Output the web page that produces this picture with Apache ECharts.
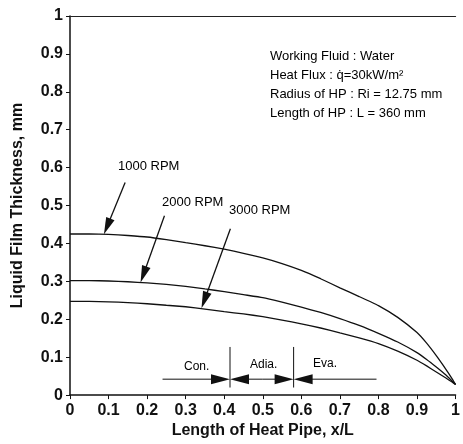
<!DOCTYPE html>
<html>
<head>
<meta charset="utf-8">
<script src="https://cdn.jsdelivr.net/npm/echarts@6/dist/echarts.min.js"></script>
<style>
  html, body { margin: 0; padding: 0; background: #fff; }
  #chart { width: 463px; height: 444px; }
</style>
</head>
<body>
<div id="chart"></div>
<script>
// x/L positions sampled along the pipe
const xPos = [0, 0.05, 0.1, 0.15, 0.2, 0.25, 0.3, 0.35, 0.4, 0.45, 0.5, 0.55, 0.6, 0.65, 0.7, 0.75, 0.8, 0.85, 0.9, 0.925, 0.95, 0.975, 0.99, 1.0]
const rpm1000 = [0.425, 0.425, 0.424, 0.421, 0.417, 0.41, 0.402, 0.394, 0.385, 0.374, 0.362, 0.347, 0.329, 0.307, 0.283, 0.26, 0.236, 0.205, 0.165, 0.137, 0.104, 0.068, 0.045, 0.028]
const rpm2000 = [0.302, 0.302, 0.301, 0.299, 0.296, 0.292, 0.287, 0.28, 0.273, 0.265, 0.257, 0.245, 0.232, 0.218, 0.202, 0.184, 0.163, 0.14, 0.112, 0.094, 0.074, 0.053, 0.038, 0.028]
const rpm3000 = [0.247, 0.247, 0.246, 0.244, 0.241, 0.237, 0.233, 0.227, 0.22, 0.214, 0.207, 0.198, 0.188, 0.177, 0.164, 0.151, 0.136, 0.116, 0.092, 0.077, 0.061, 0.045, 0.035, 0.028]

// section boundaries (x/L) and the labels under the curves
const sectionEdges = [0.415, 0.58]
const sectionRange = [0.24, 0.795]
const sectionNames = ['Con.', 'Adia.', 'Eva.']

// pointer arrows from the rpm labels to the curves: [x1, y1, x2(tip), y2(tip)]
const pointerArrows = [
  [0.143, 0.561, 0.088, 0.424],
  [0.245, 0.473, 0.183, 0.297],
  [0.416, 0.439, 0.341, 0.229]
]

const font = '"Liberation Sans", Arial, Helvetica, sans-serif'
const pairs = ys => xPos.map((x, i) => [x, ys[i]])

const arrowY = 0.042
// [x1, y1, x2, y2, head?]
const sectionArrows = [
  [sectionEdges[0], 0.02, sectionEdges[0], 0.127, 0],
  [sectionEdges[1], 0.02, sectionEdges[1], 0.127, 0],
  [sectionRange[0], arrowY, sectionEdges[0], arrowY, 1],
  [0.5, arrowY, sectionEdges[0], arrowY, 1],
  [0.5, arrowY, sectionEdges[1], arrowY, 1],
  [sectionRange[1], arrowY, sectionEdges[1], arrowY, 1]
]

// draws a line with an optional filled head at its second point
function arrowRenderer(headLen, headHalf, lineWidth) {
  return function (params, api) {
    const a = api.coord([api.value(0), api.value(1)])
    const b = api.coord([api.value(2), api.value(3)])
    const withHead = api.value(4) !== 0
    const dx = b[0] - a[0], dy = b[1] - a[1]
    const len = Math.sqrt(dx * dx + dy * dy)
    const ux = dx / len, uy = dy / len
    const children = []
    const end = withHead ? [b[0] - ux * headLen * 0.8, b[1] - uy * headLen * 0.8] : b
    children.push({
      type: 'line',
      shape: { x1: a[0], y1: a[1], x2: end[0], y2: end[1] },
      style: { stroke: '#111', lineWidth: lineWidth }
    })
    if (withHead) {
      const bx = b[0] - ux * headLen, by = b[1] - uy * headLen
      children.push({
        type: 'polygon',
        shape: { points: [b, [bx - uy * headHalf, by + ux * headHalf], [bx + uy * headHalf, by - ux * headHalf]] },
        style: { fill: '#111' }
      })
    }
    return { type: 'group', children }
  }
}

const curveStyle = { color: '#111', width: 1.3 }
const curve = (name, ys) => ({
  name, type: 'line', data: pairs(ys), smooth: 0.15,
  showSymbol: false, lineStyle: curveStyle
})

const chart = echarts.init(document.getElementById('chart'))

chart.setOption({
  animation: false,
  backgroundColor: '#fff',
  grid: { left: 70, top: 16, right: 1, bottom: 43 },
  xAxis: [{
    type: 'value',
    min: 0,
    max: 1,
    interval: 0.1,
    name: 'Length of Heat Pipe, x/L',
    nameLocation: 'middle',
    nameGap: 25,
    nameTextStyle: { color: '#111', fontFamily: font, fontWeight: 'bold', fontSize: 16 },
    axisLine: { lineStyle: { color: '#111', width: 1.5 } },
    axisTick: { length: 4, lineStyle: { color: '#111' } },
    axisLabel: { color: '#111', fontFamily: font, fontWeight: 'bold', fontSize: 16, margin: 7 },
    splitLine: { show: false }
  }, {
    type: 'value',
    position: 'top',
    min: 0,
    max: 1,
    axisLine: { show: true, lineStyle: { color: '#222', width: 1.2 } },
    axisTick: { show: false },
    axisLabel: { show: false },
    splitLine: { show: false }
  }],
  yAxis: {
    type: 'value',
    min: 0,
    max: 1,
    interval: 0.1,
    name: 'Liquid Film Thickness, mm',
    nameLocation: 'middle',
    nameGap: 44,
    nameTextStyle: { color: '#111', fontFamily: font, fontWeight: 'bold', fontSize: 16 },
    axisLine: { show: true, lineStyle: { color: '#111', width: 1.5 } },
    axisTick: { show: true, length: 4, lineStyle: { color: '#111' } },
    axisLabel: { color: '#111', fontFamily: font, fontWeight: 'bold', fontSize: 16, margin: 7 },
    splitLine: { show: false }
  },
  series: [
    curve('1000 RPM', rpm1000),
    curve('2000 RPM', rpm2000),
    curve('3000 RPM', rpm3000),
    {
      name: 'pointers', type: 'custom', silent: true, clip: false,
      renderItem: arrowRenderer(17, 4.5, 1.3),
      data: pointerArrows.map(a => a.concat([1]))
    },
    {
      name: 'sections', type: 'custom', silent: true, clip: false,
      renderItem: arrowRenderer(19, 5, 1),
      data: sectionArrows
    }
  ],
  graphic: [
    { type: 'text', left: 118, top: 160, style: { text: '1000 RPM', font: '13px ' + font, fill: '#000' } },
    { type: 'text', left: 162, top: 196, style: { text: '2000 RPM', font: '13px ' + font, fill: '#000' } },
    { type: 'text', left: 229, top: 204, style: { text: '3000 RPM', font: '13px ' + font, fill: '#000' } },
    { type: 'text', left: 270, top: 50, style: { text: 'Working Fluid : Water', font: '13px ' + font, fill: '#000' } },
    { type: 'text', left: 270, top: 69, style: { text: 'Heat Flux : q\u0307=30kW/m\u00B2', font: '13px ' + font, fill: '#000' } },
    { type: 'text', left: 270, top: 88, style: { text: 'Radius of HP : Ri = 12.75 mm', font: '13px ' + font, fill: '#000' } },
    { type: 'text', left: 270, top: 107, style: { text: 'Length of HP : L = 360 mm', font: '13px ' + font, fill: '#000' } },
    { type: 'text', left: 184, top: 361, style: { text: sectionNames[0], font: '12px ' + font, fill: '#000' } },
    { type: 'text', left: 250, top: 359, style: { text: sectionNames[1], font: '12px ' + font, fill: '#000' } },
    { type: 'text', left: 313, top: 358, style: { text: sectionNames[2], font: '12px ' + font, fill: '#000' } }
  ]
})
</script>
</body>
</html>
